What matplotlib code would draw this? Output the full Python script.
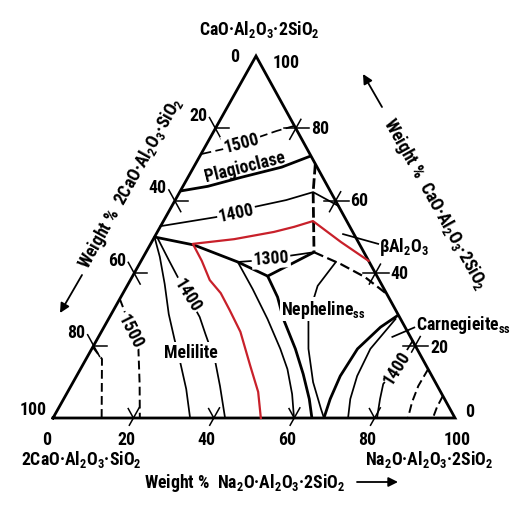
import numpy as np
import matplotlib
matplotlib.use("Agg")
import matplotlib.pyplot as plt
from matplotlib import font_manager

# --- DATA: a = wt% Na2O.Al2O3.2SiO2, b = wt% CaO.Al2O3.2SiO2 ---
TICK_VALUES = [20, 40, 60, 80]

# heavy phase boundaries
PLAG_BOUND_A = [0.0, 6.2, 13.3, 21.9, 27.6]
PLAG_BOUND_B = [62.7, 64.0, 66.5, 69.3, 72.4]
MEL_BOUND_A = [0.0, 10.9, 24.2, 33.6, 41.8]
MEL_BOUND_B = [50.0, 47.8, 43.1, 39.2, 45.8]
NEPH_BOUND_A = [33.6, 39.0, 43.5, 50.65, 56.1, 61.1, 64.4]
NEPH_BOUND_B = [39.2, 33.4, 27.35, 19.1, 12.15, 5.25, 0.0]
CARN_BOUND_A = [71.55, 68.8, 66.1, 65.6, 66.3, 67.4]
CARN_BOUND_B = [28.45, 25.1, 19.1, 11.6, 5.25, 0.0]
BETA_BOUND_A = [29.8, 33.2, 41.8]
BETA_BOUND_B = [70.2, 62.4, 45.8]
BETA_NEPH_A = [41.8, 50.15, 57.9, 65.75]
BETA_NEPH_B = [45.8, 42.5, 38.95, 34.25]

# isotherms and other thin lines
ISO1500_TOP_A = [0.0, 4.9, 12.0, 15.6, 19.3]
ISO1500_TOP_B = [72.9, 74.3, 77.6, 79.3, 80.7]
ISO1400_TOP_A = [0.0, 12.55, 20.6, 27.6, 33.2, 41.4]
ISO1400_TOP_B = [53.0, 55.5, 58.3, 60.2, 62.4, 58.6]
ISO1300_A = [24.2, 27.8, 35.8, 41.8]
ISO1300_B = [43.1, 43.4, 44.75, 45.8]
MEL_CURVE1_A = [0.0, 4.1, 9.1, 14.3, 19.2, 23.8, 29.1, 34.1]
MEL_CURVE1_B = [50.0, 44.5, 37.0, 28.7, 21.8, 15.5, 8.0, 0.0]
ISO1400_MEL_A = [1.2, 6.8, 11.35, 22.4, 26.2, 32.55, 37.1, 42.8]
ISO1400_MEL_B = [49.4, 43.6, 38.95, 27.9, 23.2, 15.5, 8.8, 0.0]
MEL_CURVE2_A = [24.2, 31.7, 39.55, 46.9, 51.5, 56.15, 59.95]
MEL_CURVE2_B = [43.1, 35.6, 27.35, 19.1, 13.5, 6.6, 0.0]
NEPH_IN_A = [48.6, 47.4, 49.3, 53.9, 59.7, 65.4, 67.4]
NEPH_IN_B = [43.1, 36.5, 28.2, 19.1, 9.9, 2.5, 0.0]
CARN_IN_A = [71.4, 69.3, 69.8, 71.3, 73.4]
CARN_IN_B = [27.35, 19.1, 11.6, 5.25, 0.0]
ISO1400_R_A = [78.7, 78.35, 77.4, 78.7, 80.6]
ISO1400_R_B = [21.3, 14.2, 9.4, 5.25, 0.0]
DASH_R1_A = [86.5, 86.4, 87.1, 88.3]
DASH_R1_B = [13.5, 8.85, 4.4, 0.0]
DASH_R2_A = [93.9, 94.0, 94.5]
DASH_R2_B = [6.1, 3.0, 0.0]
DASH_L_A = [0.0, 3.95, 7.4, 12.1]
DASH_L_B = [19.6, 16.3, 9.4, 0.0]
ISO1500_L_A = [0.0, 1.7, 11.6, 16.8, 21.6]
ISO1500_L_B = [32.9, 30.9, 19.1, 9.4, 0.0]

# red (hand drawn) curve
RED_A = [56.6, 47.1, 37.2, 33.3, 29.0, 20.1, 10.5, 15.1, 19.75, 24.3, 28.9, 34.6, 41.8, 47.4, 51.7]
RED_B = [43.4, 48.6, 54.4, 52.8, 51.4, 49.4, 48.1, 43.4, 38.1, 34.5, 29.8, 23.8, 14.4, 7.2, 0.0]

# --- font: a narrow face is closest to the drafting lettering ---
entries = font_manager.fontManager.ttflist
names = {f.name for f in entries}
STRETCH, WEIGHT = 'normal', 'bold'
if 'Liberation Sans Narrow' in names:
    FONT, FS = 'Liberation Sans Narrow', 12.5
elif 'Roboto Condensed' in names:
    FONT, FS = 'Roboto Condensed', 12.8
elif any(f.name == 'DejaVu Sans' and str(f.stretch) in ('condensed', 'semi-condensed') for f in entries):
    FONT, FS, STRETCH = 'DejaVu Sans', 12, 'condensed'
else:
    FONT, FS, WEIGHT = 'DejaVu Sans', 11, 'normal'
plt.rcParams['font.family'] = [FONT, 'DejaVu Sans']
plt.rcParams['font.stretch'] = STRETCH
plt.rcParams['font.weight'] = WEIGHT
plt.rcParams['mathtext.default'] = 'regular'

SKEW = 0.505
W, H = 513, 506


def tern(a, b):
    a = np.asarray(a, float)
    b = np.asarray(b, float)
    return a + SKEW * b, b


def fpos(x, y):
    # image pixel -> figure fraction
    return x / W, 1 - y / H


fig = plt.figure(figsize=(W / 100, H / 100), dpi=100)
fig.patch.set_facecolor('white')
ax = fig.add_axes([0, 0, 1, 1])
ax.set_xlim(-53 / 4.02, (W - 53) / 4.02)
ax.set_ylim((419 - H) / 3.62, 419 / 3.62)
ax.axis('off')

THICK, THIN = 2.0, 1.25
kw_thick = dict(color='black', lw=THICK, solid_capstyle='butt')
kw_thin = dict(color='black', lw=THIN)

# triangle
ax.plot(*tern([0, 100, 0, 0], [0, 0, 100, 0]), color='black', lw=THICK, solid_joinstyle='miter')

# boundaries
ax.plot(*tern(PLAG_BOUND_A, PLAG_BOUND_B), **kw_thick)
ax.plot(*tern(MEL_BOUND_A, MEL_BOUND_B), **kw_thick)
ax.plot(*tern(NEPH_BOUND_A, NEPH_BOUND_B), **kw_thick)
ax.plot(*tern(CARN_BOUND_A, CARN_BOUND_B), **kw_thick)
ax.plot(*tern(BETA_BOUND_A, BETA_BOUND_B), color='black', lw=THICK, ls=(0, (3.8, 1.4)))
ax.plot(*tern(BETA_NEPH_A, BETA_NEPH_B), color='black', lw=1.6, ls=(0, (4.5, 2.0)))

# isotherms
ax.plot(*tern(ISO1500_TOP_A, ISO1500_TOP_B), color='black', lw=THIN, ls=(0, (6, 2.5)))
ax.plot(*tern(ISO1400_TOP_A, ISO1400_TOP_B), **kw_thin)
ax.plot(*tern(ISO1300_A, ISO1300_B), **kw_thin)
ax.plot(*tern(MEL_CURVE1_A, MEL_CURVE1_B), **kw_thin)
ax.plot(*tern(ISO1400_MEL_A, ISO1400_MEL_B), **kw_thin)
ax.plot(*tern(MEL_CURVE2_A, MEL_CURVE2_B), **kw_thin)
ax.plot(*tern(NEPH_IN_A, NEPH_IN_B), **kw_thin)
ax.plot(*tern(CARN_IN_A, CARN_IN_B), **kw_thin)
ax.plot(*tern(ISO1400_R_A, ISO1400_R_B), **kw_thin)
ax.plot(*tern(DASH_R1_A, DASH_R1_B), color='black', lw=1.4, ls=(0, (4.5, 2.2)))
ax.plot(*tern(DASH_R2_A, DASH_R2_B), color='black', lw=1.4, ls=(0, (4.5, 2.2)))
ax.plot(*tern(DASH_L_A, DASH_L_B), color='black', lw=1.4, ls=(0, (4.5, 2.2)))
ax.plot(*tern(ISO1500_L_A, ISO1500_L_B), color='black', lw=1.4, ls=(0, (4.5, 2.2)))

ax.plot(*tern(RED_A, RED_B), color='#c8202a', lw=1.6, solid_joinstyle='round')

# leaders
ax.plot(*tern([46.5, 56.6], [50.8, 48.1]), **kw_thin)   # beta Al2O3
ax.plot(*tern([73.1, 77.25], [22.4, 25.0]), **kw_thin)  # carnegieite

# ticks
tk = dict(color='black', lw=1.1)
for v in TICK_VALUES:
    # bottom edge
    ax.plot(*tern([v, v], [-2.0, 2.8]), **tk)
    ax.plot(*tern([v, v - 2.6], [0, 2.6]), **tk)
    # left edge
    b = 100 - v
    ax.plot(*tern([-3.0, 3.0], [b + 3.0, b - 3.0]), **tk)
    ax.plot(*tern([0, 3.3], [b, b]), **tk)
    # right edge
    a = 100 - v
    ax.plot(*tern([a - 3.0, a + 3.3], [v, v]), **tk)
    ax.plot(*tern([a, a], [v - 3.0, v + 2.5]), **tk)

# tick labels (offsets in pixels)
for v in [0] + TICK_VALUES + [100]:
    dx = -7 if 0 < v < 100 else (-6 if v == 0 else 2)
    ax.annotate(str(v), xy=tern(v, 0), xytext=(dx, -21), textcoords='offset pixels',
                ha='center', va='center', fontsize=FS)
    if v == 0:
        off = (-21, 0)
    elif v == 100:
        off = (-20, 9)
    else:
        off = (-17, 13.5)
    ax.annotate(str(v), xy=tern(0, 100 - v), xytext=off, textcoords='offset pixels',
                ha='center', va='center', fontsize=FS)
    if v == 100:
        off = (30, -6)
    elif v == 0:
        off = (15, 7)
    elif v == 20:
        off = (24, -1.5)
    else:
        off = (24, 0.5)
    ax.annotate(str(v), xy=tern(100 - v, v), xytext=off, textcoords='offset pixels',
                ha='center', va='center', fontsize=FS)

# in-field labels
box = dict(boxstyle='square,pad=0.08', fc='white', ec='none')
ax.text(*tern(8.4, 76.2), '1500', rotation=15, ha='center', va='center', fontsize=FS, bbox=box)
ax.text(*tern(16.8, 56.9), '1400', rotation=12, ha='center', va='center', fontsize=FS, bbox=box)
ax.text(*tern(31.9, 44.2), '1300', rotation=4, ha='center', va='center', fontsize=FS, bbox=box)
ax.text(*tern(16.2, 34.0), '1400', rotation=-58, ha='center', va='center', fontsize=FS, bbox=box)
ax.text(*tern(7.2, 24.0), '1500', rotation=-63, ha='center', va='center', fontsize=FS, bbox=box)
ax.text(*tern(78.35, 14.2), '1400', rotation=58, ha='center', va='center', fontsize=FS, bbox=box)
ax.text(*tern(12.5, 69.6), 'Plagioclase', rotation=14, ha='center', va='center', fontsize=FS)
ax.text(*tern(25.2, 18.2), 'Melilite', ha='center', va='center', fontsize=FS, bbox=box)
ax.text(*tern(52.1, 30.1), 'Nepheline$_{ss}$', ha='center', va='center', fontsize=FS, bbox=box)
ax.text(*tern(77.2, 25.9), 'Carnegieite$_{ss}$', ha='left', va='center', fontsize=FS)
ax.text(*tern(57.1, 47.5), r'$\beta$Al$_2$O$_3$', ha='left', va='center', fontsize=FS)

# corner and axis titles
fig.text(*fpos(259, 30), 'CaO·Al$_2$O$_3$·2SiO$_2$', ha='center', va='center', fontsize=FS)
fig.text(*fpos(81, 460), '2CaO·Al$_2$O$_3$·SiO$_2$', ha='center', va='center', fontsize=FS)
fig.text(*fpos(429, 460), 'Na$_2$O·Al$_2$O$_3$·2SiO$_2$', ha='center', va='center', fontsize=FS)
fig.text(*fpos(245, 483), 'Weight %  Na$_2$O·Al$_2$O$_3$·2SiO$_2$', ha='center', va='center', fontsize=FS)
fig.text(*fpos(131, 183), 'Weight %  2CaO·Al$_2$O$_3$·SiO$_2$', rotation=60.7,
         ha='center', va='center', fontsize=FS, rotation_mode='anchor')
fig.text(*fpos(435, 204), 'Weight %  CaO·Al$_2$O$_3$·2SiO$_2$', rotation=-60.7,
         ha='center', va='center', fontsize=FS, rotation_mode='anchor')

arrow = dict(arrowstyle='-|>', color='black', lw=1.3, mutation_scale=14, shrinkA=0, shrinkB=0)
ax.annotate('', xy=(398, H - 483), xytext=(357, H - 483), xycoords='figure pixels', arrowprops=arrow)
ax.annotate('', xy=(60, H - 314), xytext=(82, H - 276), xycoords='figure pixels', arrowprops=arrow)
ax.annotate('', xy=(363, H - 75), xytext=(382, H - 108), xycoords='figure pixels', arrowprops=arrow)

fig.savefig('out.png', dpi=100, facecolor='white')
